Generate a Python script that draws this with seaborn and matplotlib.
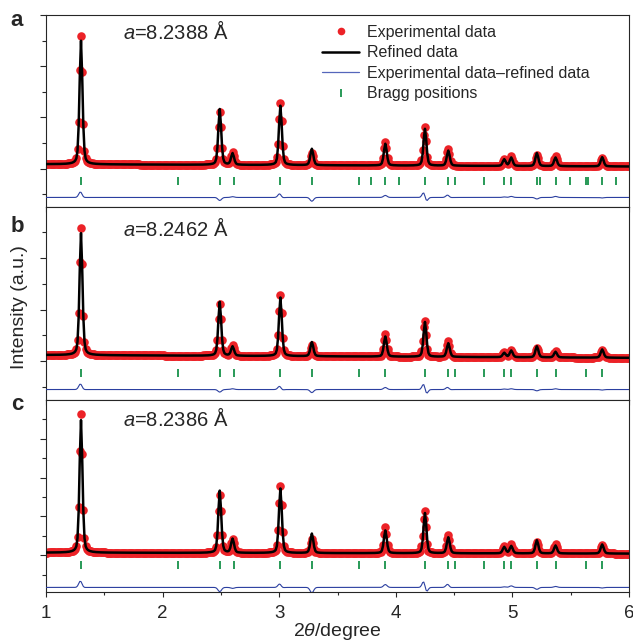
import numpy as np
import pandas as pd
import matplotlib.pyplot as plt
from matplotlib.lines import Line2D
import seaborn as sns

sns.set_style("ticks")
plt.rcParams['font.family'] = ['Liberation Sans', 'DejaVu Sans']
plt.rcParams['mathtext.fontset'] = 'custom'
plt.rcParams['mathtext.rm'] = 'Liberation Sans'
plt.rcParams['mathtext.it'] = 'Liberation Sans:italic'

# Peak positions (2theta, degree) shared by the three samples
peak_pos = [1.30, 2.49, 2.60, 3.01, 3.28, 3.91, 4.25, 4.45, 4.93, 4.99, 5.21, 5.37, 5.77]

height_a = [5.03, 2.06, 0.48, 2.44, 0.49, 0.93, 1.49, 0.67, 0.28, 0.37, 0.45, 0.38, 0.34]
height_b = [4.93, 1.99, 0.39, 2.37, 0.43, 0.86, 1.40, 0.60, 0.19, 0.29, 0.38, 0.25, 0.30]
height_c = [7.12, 2.98, 0.67, 3.47, 0.72, 1.32, 2.15, 0.96, 0.36, 0.46, 0.58, 0.46, 0.44]

# background level at 2theta = 1 and 6
bg_a = [0.17, 0.08]
bg_b = [0.24, 0.13]
bg_c = [0.14, 0.09]

# residual (obs - calc) features at each peak: bump and wiggle amplitudes
diff_bump_a = [0.20, -0.12, 0.03, 0.12, -0.15, 0.08, 0.05, 0.08, 0.02, 0.04, -0.06, 0.04, -0.02]
diff_wig_a = [0.05, 0.0, 0.0, 0.05, 0.0, 0.0, 0.15, 0.03, 0.0, 0.0, 0.0, 0.0, 0.0]
diff_bump_b = [0.20, -0.10, 0.03, 0.10, -0.12, 0.08, 0.05, 0.07, 0.02, 0.03, -0.05, 0.03, -0.02]
diff_wig_b = [0.05, 0.0, 0.0, 0.05, 0.0, 0.0, 0.17, 0.03, 0.0, 0.0, 0.0, 0.0, 0.0]
diff_bump_c = [0.30, -0.22, -0.05, 0.15, -0.28, 0.15, 0.08, 0.14, 0.03, 0.08, -0.10, 0.05, -0.03]
diff_wig_c = [0.08, 0.0, 0.0, 0.06, 0.0, 0.0, 0.24, 0.05, 0.0, 0.0, 0.0, 0.0, 0.0]

# Bragg reflection positions
bragg_a = [1.30, 2.13, 2.49, 2.61, 3.01, 3.28, 3.68, 3.79, 3.91, 4.03, 4.25, 4.45, 4.51,
           4.76, 4.93, 4.99, 5.21, 5.24, 5.37, 5.49, 5.63, 5.65, 5.77, 5.89]
bragg_b = [1.30, 2.13, 2.49, 2.61, 3.01, 3.28, 3.68, 3.91, 4.25, 4.45, 4.51,
           4.76, 4.93, 4.99, 5.21, 5.37, 5.63, 5.77]
bragg_c = [1.30, 2.13, 2.49, 2.61, 3.01, 3.28, 3.68, 3.91, 4.25, 4.45, 4.51,
           4.76, 4.93, 4.99, 5.21, 5.37, 5.63, 5.77]

labels = ['a', 'b', 'c']
lattice = ['8.2388', '8.2462', '8.2386']

# vertical placement of the Bragg ticks and residual curve, and y range of each panel
bragg_level = [-0.5, -0.46, -0.51]
diff_level = [-1.13, -1.10, -1.65]
ylims = [(-1.52, 6.0), (-1.5, 5.96), (-1.9, 8.0)]

two_theta = np.round(np.arange(1.0, 6.0001, 0.01), 3)
FWHM = 0.030


def pseudo_voigt(x, x0, fwhm, eta=0.35):
    sig = fwhm / 2.3548
    gam = fwhm / 2
    g = np.exp(-0.5 * ((x - x0) / sig) ** 2)
    l = 1.0 / (1 + ((x - x0) / gam) ** 2)
    return eta * l + (1 - eta) * g


def pattern(heights, bg, bumps, wigs):
    bg_line = bg[0] + (bg[1] - bg[0]) * (two_theta - 1) / 5
    diff = np.zeros_like(two_theta)
    calc = bg_line.copy()
    sd = FWHM * 0.5
    for p, h, b, w in zip(peak_pos, heights, bumps, wigs):
        u = (two_theta - p) / sd
        diff += b * np.exp(-0.5 * u ** 2) - w * 1.65 * u * np.exp(-0.5 * u ** 2)
        calc += (h - b) * pseudo_voigt(two_theta, p, FWHM)
    return pd.DataFrame({'two_theta': two_theta, 'obs': calc + diff, 'calc': calc, 'diff': diff})


panels = [
    pattern(height_a, bg_a, diff_bump_a, diff_wig_a),
    pattern(height_b, bg_b, diff_bump_b, diff_wig_b),
    pattern(height_c, bg_c, diff_bump_c, diff_wig_c),
]
braggs = [bragg_a, bragg_b, bragg_c]

red = '#ec2227'
blue = '#2b3fa0'
green = '#17924a'

fig, axes = plt.subplots(3, 1, figsize=(6.33, 6.41), dpi=100, sharex=True,
                         gridspec_kw=dict(hspace=0))
fig.subplots_adjust(left=0.0727, right=0.9937, top=0.9766, bottom=0.076)

for i, ax in enumerate(axes):
    df = panels[i]
    sns.scatterplot(data=df, x='two_theta', y='obs', ax=ax, color=red, s=38,
                    linewidth=0, zorder=2)
    sns.lineplot(data=df, x='two_theta', y='calc', ax=ax, color='black', lw=1.8,
                 errorbar=None, sort=False, zorder=3)
    df['diff_line'] = df['diff'] + diff_level[i]
    sns.lineplot(data=df, x='two_theta', y='diff_line', ax=ax, color=blue, lw=0.8,
                 errorbar=None, sort=False, zorder=3)
    ax.plot(braggs[i], [bragg_level[i]] * len(braggs[i]), ls='none', marker='|',
            color=green, markersize=6, markeredgewidth=1.3)

    ax.set_xticks([1, 2, 3, 4, 5, 6])
    ax.set_xticks(np.arange(1.5, 6, 1.0), minor=True)
    ax.set_yticks([0, 2, 4, 6])
    ax.set_yticks([-1, 1, 3, 5, 7], minor=True)
    ax.set_yticklabels([])
    ax.set_xlim(1, 6)
    ax.set_ylim(*ylims[i])
    ax.set_xlabel('')
    ax.set_ylabel('')
    ax.tick_params(axis='y', which='major', direction='out', length=4.3, width=0.8)
    ax.tick_params(axis='y', which='minor', direction='out', length=2.6, width=0.8)
    ax.tick_params(axis='x', which='major', direction='out', length=3.5, width=0.8,
                   labelsize=13.5, pad=6)
    ax.tick_params(axis='x', which='minor', direction='out', length=2.0, width=0.8)
    for sp in ax.spines.values():
        sp.set_linewidth(0.8)
        sp.set_visible(True)

    ax.text(1.66, ylims[i][0] + (ylims[i][1] - ylims[i][0]) * [0.874, 0.849, 0.862][i],
            '$a$=' + lattice[i] + ' Å', fontsize=14.5, va='baseline', ha='left')

fig.text(0.017, 0.960, 'a', fontsize=16, fontweight='bold', va='baseline')
fig.text(0.017, 0.6385, 'b', fontsize=16, fontweight='bold', va='baseline')
fig.text(0.017, 0.3604, 'c', fontsize=16, fontweight='bold', va='baseline')

axes[2].set_xlabel('2$\\theta$/degree', fontsize=14, labelpad=-1)
fig.text(0.031, 0.521, 'Intensity (a.u.)', rotation=90, fontsize=14, va='center', ha='center')

handles = [
    Line2D([], [], ls='none', marker='o', color=red, markersize=5.5, markeredgewidth=0),
    Line2D([], [], color='black', lw=1.8),
    Line2D([], [], color='#5566bb', lw=0.9),
    Line2D([], [], ls='none', marker='|', color=green, markersize=6, markeredgewidth=1.3),
]
names = ['Experimental data', 'Refined data', 'Experimental data\u2013refined data', 'Bragg positions']
axes[0].legend(handles, names, loc='upper left', bbox_to_anchor=(0.473, 0.949),
               frameon=False, fontsize=11.5, borderpad=0, handlelength=2.35,
               handletextpad=0.5, labelspacing=0.34, borderaxespad=0)

fig.savefig('out.png', dpi=100)
